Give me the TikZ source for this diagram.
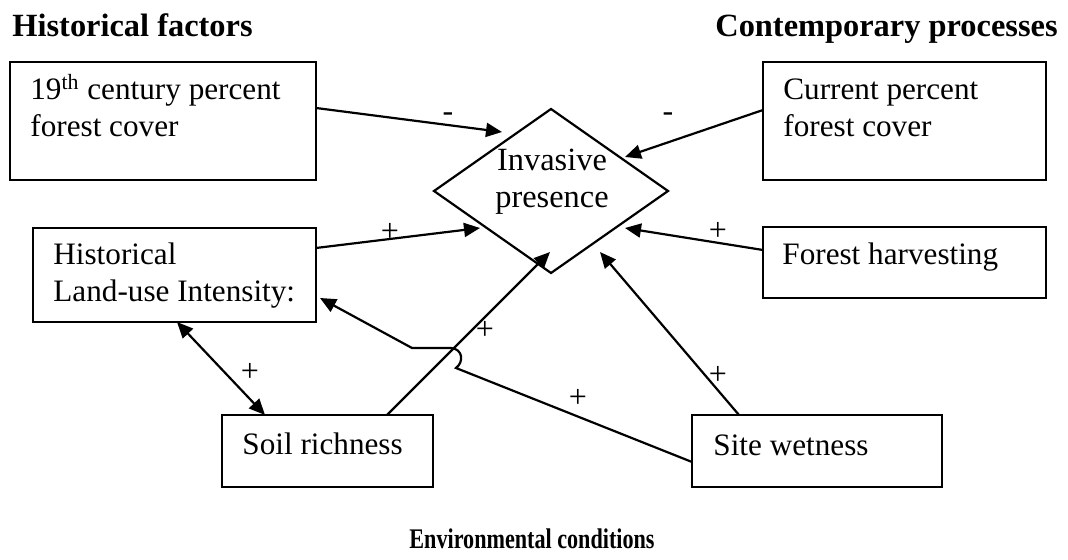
\documentclass[tikz,border=0pt]{standalone}
\usepackage{fontspec}
\setmainfont{Liberation Serif}
\newfontfamily\condfont[FakeStretch=0.78]{Liberation Serif}
\usetikzlibrary{arrows.meta,shapes.geometric}
\begin{document}
\begin{tikzpicture}[x=0.5pt,y=-0.5pt,
  box/.style={draw, line width=1.1pt, inner sep=0pt, outer sep=0pt},
  txt/.style={inner sep=0pt, align=left, anchor=base west, font=\fontsize{15.6}{18.5}\selectfont},
  sgn/.style={inner sep=0pt, font=\fontsize{16}{18.5}\selectfont},
  hdr/.style={inner sep=0pt, font=\fontsize{16.2}{19}\selectfont\bfseries},
  hdrE/.style={inner sep=0pt, font=\condfont\fontsize{14.2}{16}\selectfont\bfseries},
  conn/.style={line width=1.1pt, -{Triangle[length=8pt,width=7pt]}},
  dconn/.style={line width=1.1pt, {Triangle[length=8pt,width=7pt]}-{Triangle[length=8pt,width=7pt]}},
]
\useasboundingbox (0,0) rectangle (1068,560);

% headers
\node[hdr, anchor=base west] (h1) at (12,37) {Historical factors};
\node[hdr, anchor=base east] (h2) at (1058,37) {Contemporary processes};
\node[hdrE, anchor=base] (h3) at (532,548) {Environmental conditions};

% boxes
\node[box, minimum width=153pt, minimum height=59pt] (b19) at (163,121) {};
\node[box, minimum width=141.5pt, minimum height=47pt] (bhist) at (174.5,275) {};
\node[box, minimum width=141.5pt, minimum height=59pt] (bcur) at (904.5,121) {};
\node[box, minimum width=141.5pt, minimum height=35.5pt] (bharv) at (904.5,262.5) {};
\node[box, minimum width=105.5pt, minimum height=36pt] (bsoil) at (327.5,451) {};
\node[box, minimum width=125pt, minimum height=36pt] (bwet) at (817,451) {};
\node[draw, diamond, line width=1.1pt, inner sep=0pt, outer sep=0pt,
      minimum width=117pt, minimum height=82pt] (inv) at (551,191) {};

% texts (base anchor = baseline of the last line)
\node[txt] (t19) at (30,137) {19\textsuperscript{th} century percent\\forest cover};
\node[txt] (thist) at (53,302) {Historical\\Land-use Intensity:};
\node[txt] (tcur) at (783,137) {Current percent\\forest cover};
\node[txt] (tharv) at (782,265) {Forest harvesting};
\node[txt] (tsoil) at (242,454) {Soil richness};
\node[txt] (twet) at (713,455) {Site wetness};
\node[txt, align=center, anchor=base, font=\fontsize{16.2}{18.5}\selectfont] (tinv) at (552,208) {Invasive\\presence};

% arrow end points near the diamond
\coordinate (e1) at (502,132);
\coordinate (e2) at (625,157);
\coordinate (e3) at (480,228);
\coordinate (e4) at (625,228);
\coordinate (e5) at (550,252);
\coordinate (e6) at (600,252);
% route of the wetness arrow with the hop
\coordinate (w1) at (456,368);
\coordinate (w2) at (464,362);
\coordinate (w3) at (463,349);
\coordinate (w4) at (451,348);
\coordinate (w5) at (412,348);

% connectors
\draw[conn] ([yshift=6.5pt]b19.east) -- (e1);
\draw[conn] ([yshift=5.5pt]bcur.west) -- (e2);
\draw[conn] ([yshift=13.5pt]bhist.east) -- (e3);
\draw[conn] ([yshift=6.25pt]bharv.west) -- (e4);
\draw[conn] ([xshift=29.75pt]bsoil.north) -- (e5);
\draw[conn] ([xshift=-39pt]bwet.north) -- (e6);
\draw[dconn] ([xshift=1.25pt]bhist.south) -- ([xshift=-31.25pt]bsoil.north);
\draw[conn] ([yshift=-5.5pt]bwet.west) -- (w1) .. controls (w2) and (w3) .. (w4) -- (w5) -- ([xshift=2pt,yshift=-11.5pt]bhist.east);

% signs
\node[sgn] (s1) at (448,117) {-};
\node[sgn] (s2) at (668,117) {-};
\node[sgn] (s3) at (390,232) {+};
\node[sgn] (s4) at (718,231) {+};
\node[sgn] (s5) at (485,330) {+};
\node[sgn] (s6) at (250,372) {+};
\node[sgn] (s7) at (578,398) {+};
\node[sgn] (s8) at (718,375) {+};
\end{tikzpicture}
\end{document}
